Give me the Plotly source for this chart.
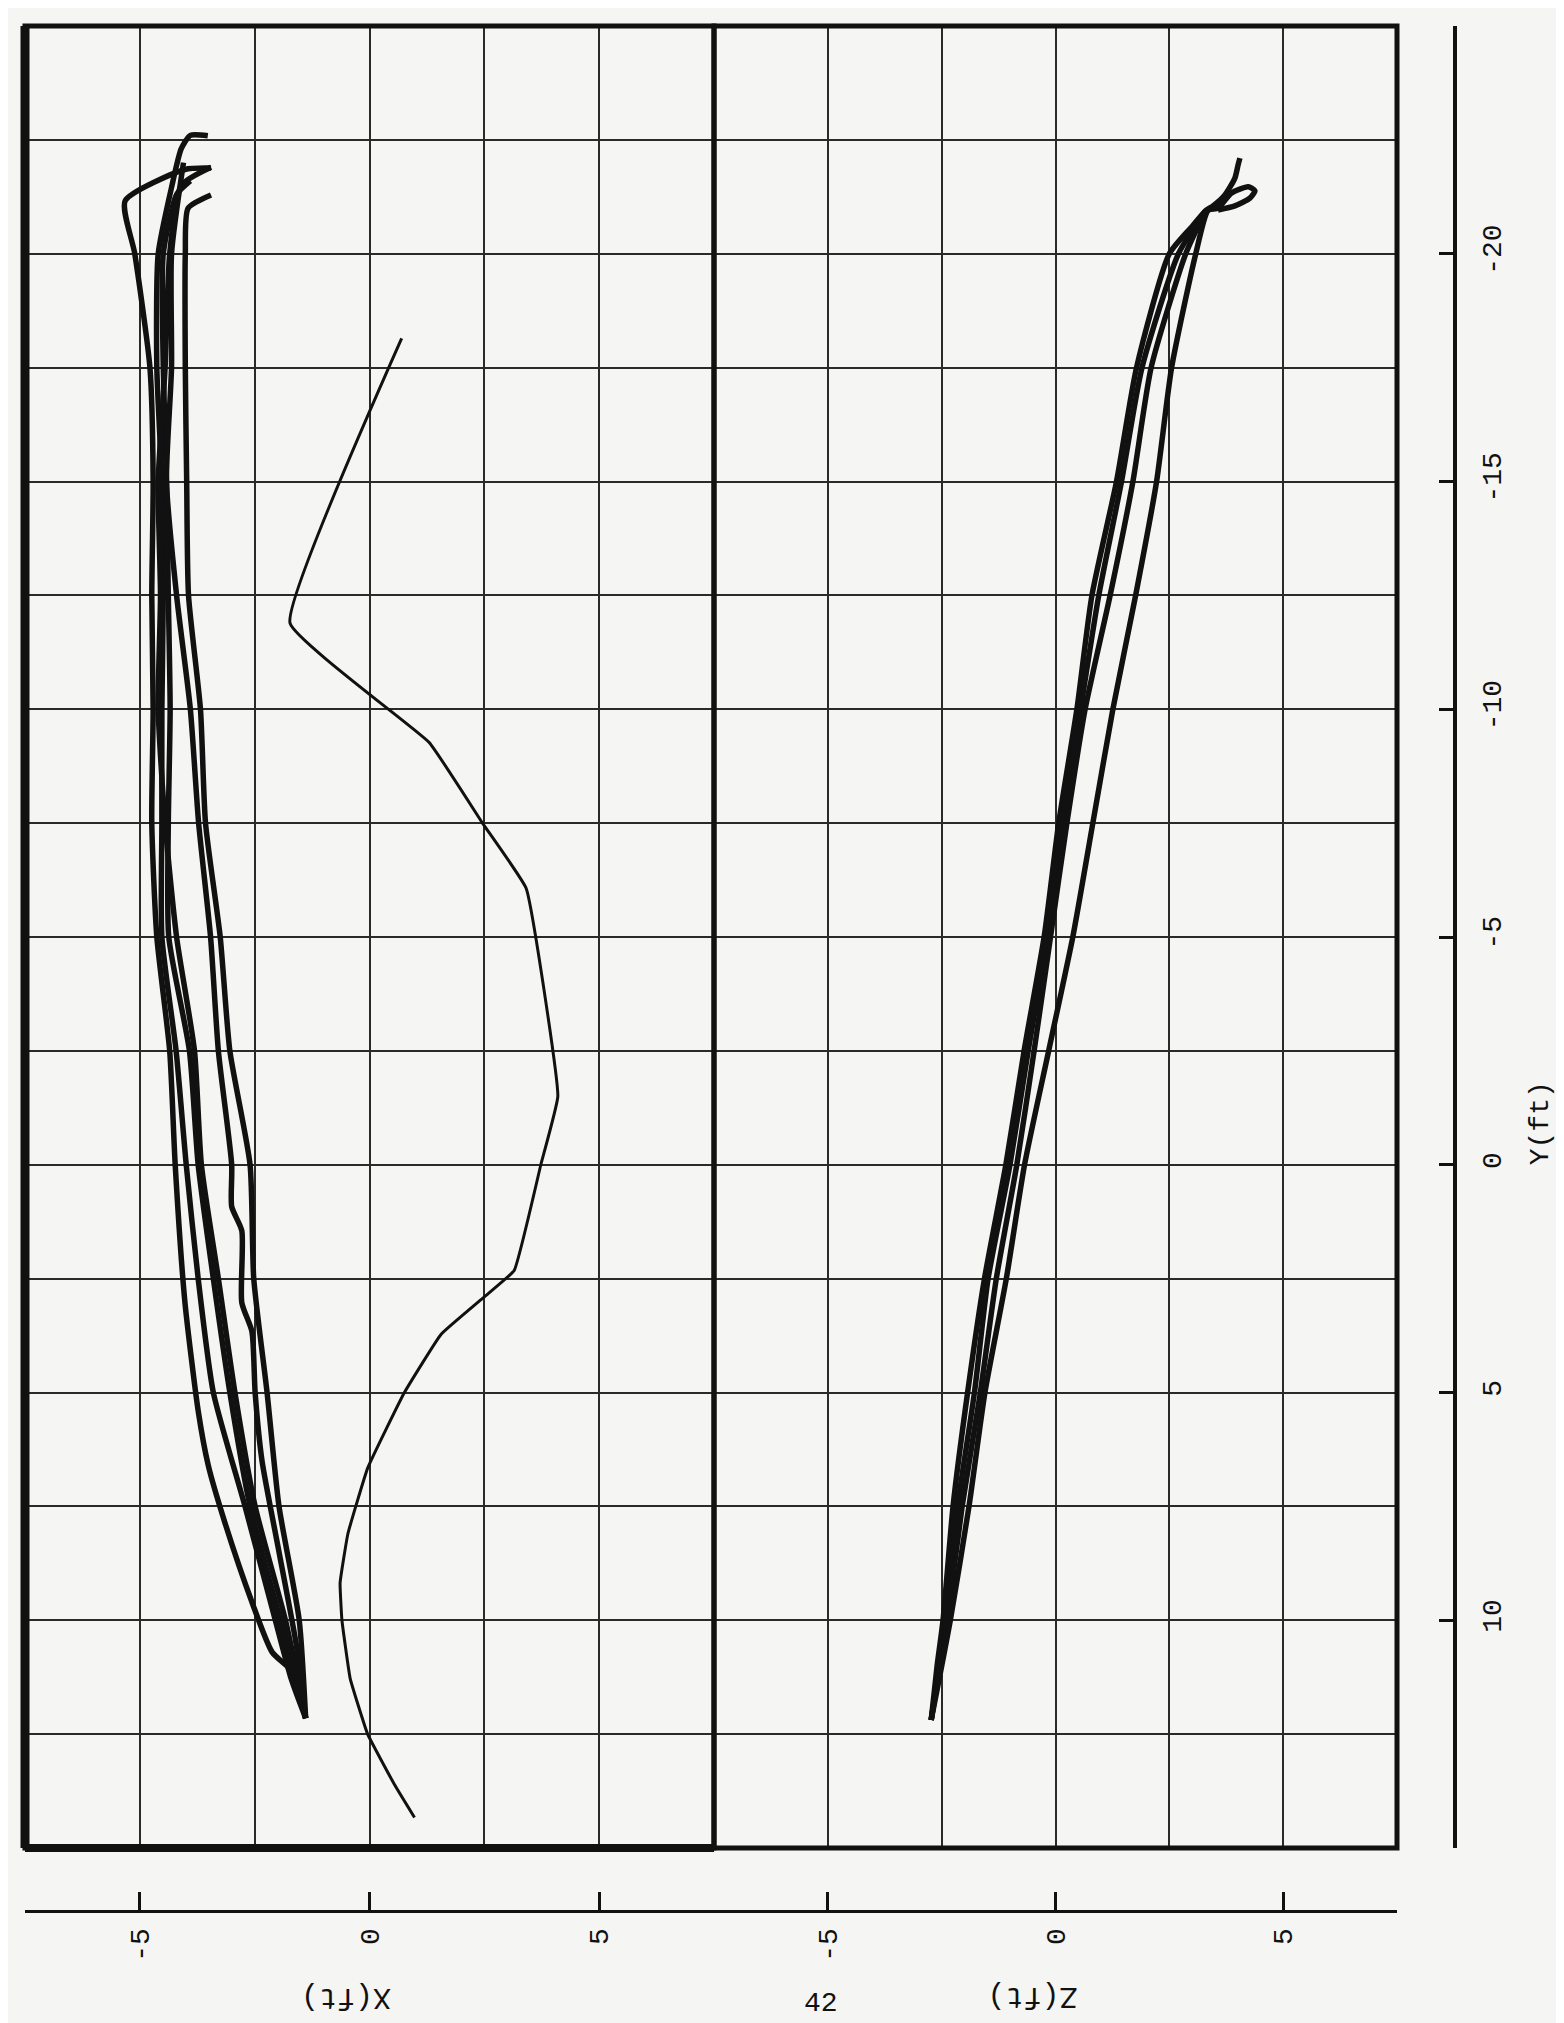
import plotly.graph_objects as go

# ---------------- data ----------------
# X(ft) panel: six trajectories (bottom -> top)
xa_X = [-1.39, -1.61, -2.12, -2.56, -3.15, -3.51, -3.73, -4.02, -4.23, -4.35, -4.63, -4.74, -4.71, -4.74, -4.71, -4.78, -5.11, -5.32, -4.02, -3.45]
xa_Y = [12.15, 11.2, 10.7, 9.6, 7.85, 6.6, 5.4, 3.0, 0.0, -2.5, -5.0, -7.5, -10.0, -12.5, -15.0, -17.5, -20.0, -21.16, -21.85, -21.88]

xb_X = [-1.39, -1.70, -2.05, -2.71, -3.40, -3.73, -3.99, -4.21, -4.52, -4.52, -4.52, -4.49, -4.52, -4.63, -4.60, -4.30, -4.10, -3.90, -3.52]
xb_Y = [12.15, 11.3, 10.0, 7.5, 5.0, 2.5, 0.0, -2.5, -5.0, -7.5, -10.0, -12.5, -15.0, -17.5, -20.0, -21.5, -22.3, -22.6, -22.59]

xc_X = [-1.39, -1.94, -2.60, -3.04, -3.40, -3.73, -3.92, -4.37, -4.38, -4.34, -4.38, -4.42, -4.49, -4.49, -4.20, -3.90]
xc_Y = [12.15, 10.0, 7.5, 5.0, 2.5, 0.0, -2.5, -5.0, -7.5, -10.0, -12.5, -15.0, -17.5, -20.0, -21.3, -21.6]

xd_X = [-1.39, -1.83, -2.49, -2.93, -3.29, -3.66, -3.81, -4.20, -4.45, -4.60, -4.55, -4.60, -4.45, -4.35, -4.10, -3.45]
xd_Y = [12.15, 10.0, 7.5, 5.0, 2.5, 0.0, -2.5, -5.0, -7.5, -10.0, -12.5, -15.0, -17.5, -20.0, -21.5, -21.9]

xe_X = [-1.39, -1.60, -1.97, -2.34, -2.49, -2.56, -2.78, -2.78, -3.00, -3.00, -3.29, -3.46, -3.72, -3.90, -4.20, -4.42, -4.31, -4.31, -4.05]
xe_Y = [12.15, 10.5, 8.5, 6.5, 5.0, 3.66, 3.03, 1.45, 0.92, 0.0, -2.5, -5.0, -7.5, -10.0, -12.5, -15.0, -17.5, -20.0, -22.0]

xf_X = [-1.39, -1.53, -1.97, -2.23, -2.52, -2.60, -3.04, -3.25, -3.57, -3.68, -3.94, -3.98, -4.01, -4.01, -3.95, -3.45]
xf_Y = [12.15, 10.0, 7.5, 5.0, 2.5, 0.0, -2.5, -5.0, -7.5, -10.0, -12.5, -15.0, -17.5, -20.0, -21.0, -21.29]

# X(ft) panel: single thin path
xs_X = [0.70, -1.73, 1.30, 2.46, 3.41, 4.10, 3.73, 3.15, 2.50, 1.56, 0.76, -0.04, -0.47, -0.64, -0.60, -0.42, -0.04, 0.54, 0.98]
xs_Y = [-18.14, -11.89, -9.27, -7.5, -6.07, -1.5, 0.0, 2.32, 2.9, 3.72, 5.0, 6.66, 8.1, 9.18, 10.0, 11.28, 12.5, 13.6, 14.33]

# Z(ft) panel: four trajectories (bottom -> top)
z1_Z = [-2.73, -2.60, -2.47, -2.25, -1.93, -1.56, -1.09, -0.69, -0.25, 0.07, 0.47, 0.80, 1.34, 1.78, 2.50, 3.00, 3.30, 3.46, 3.72, 3.94, 4.01, 4.05]
z1_Y = [12.19, 11.0, 10.0, 7.5, 5.0, 2.5, 0.0, -2.5, -5.0, -7.5, -10.0, -12.5, -15.0, -17.5, -20.0, -20.6, -20.95, -21.05, -21.29, -21.66, -21.95, -22.1]

z2_Z = [-2.73, -2.42, -2.15, -1.78, -1.48, -1.00, -0.60, -0.18, 0.15, 0.55, 0.95, 1.45, 1.90, 2.70, 3.30]
z2_Y = [12.19, 10.0, 7.5, 5.0, 2.5, 0.0, -2.5, -5.0, -7.5, -10.0, -12.5, -15.0, -17.5, -20.0, -20.95]

z3_Z = [-2.73, -2.38, -2.05, -1.65, -1.30, -0.85, -0.47, -0.11, 0.25, 0.65, 1.20, 1.70, 2.10, 2.86, 3.30]
z3_Y = [12.19, 10.0, 7.5, 5.0, 2.5, 0.0, -2.5, -5.0, -7.5, -10.0, -12.5, -15.0, -17.5, -20.0, -20.95]

z4_Z = [-2.73, -2.31, -1.90, -1.55, -1.08, -0.68, -0.15, 0.38, 0.82, 1.26, 1.76, 2.22, 2.55, 3.08, 3.35, 3.57, 3.86, 4.23, 4.38, 4.27, 3.94, 3.57]
z4_Y = [12.19, 10.0, 7.5, 5.0, 2.5, 0.0, -2.5, -5.0, -7.5, -10.0, -12.5, -15.0, -17.5, -20.0, -20.95, -21.0, -21.33, -21.47, -21.38, -21.22, -21.05, -20.96]

horiz_ticks = [-5, 0, 5]
horiz_ticktext = ["-5", "0", "5"]
y_ticks = [-20, -15, -10, -5, 0, 5, 10]
y_ticktext = ["-20", "-15", "-10", "-5", "0", "5", "10"]

# ---------------- figure ----------------
INK = "#111111"
GRID = "#2a2a2a"
PAPER = "#f5f5f3"
FONT = "Liberation Mono"

fig = go.Figure()

bundle_x = [(xa_X, xa_Y), (xb_X, xb_Y), (xc_X, xc_Y), (xd_X, xd_Y), (xe_X, xe_Y), (xf_X, xf_Y)]
for xs, ys in bundle_x:
    fig.add_trace(go.Scatter(x=xs, y=ys, mode="lines", xaxis="x", yaxis="y",
                             line=dict(color=INK, width=5.5, shape="spline", smoothing=0.6),
                             showlegend=False, hoverinfo="skip"))

fig.add_trace(go.Scatter(x=xs_X, y=xs_Y, mode="lines", xaxis="x", yaxis="y",
                         line=dict(color=INK, width=3, shape="spline", smoothing=0.3),
                         showlegend=False, hoverinfo="skip"))

bundle_z = [(z1_Z, z1_Y), (z2_Z, z2_Y), (z3_Z, z3_Y), (z4_Z, z4_Y)]
for zs, ys in bundle_z:
    fig.add_trace(go.Scatter(x=zs, y=ys, mode="lines", xaxis="x2", yaxis="y",
                             line=dict(color=INK, width=5.5, shape="spline", smoothing=0.6),
                             showlegend=False, hoverinfo="skip"))

W, H = 1564, 2023
y_dom = [(H - 1840) / H, (H - 18) / H]
x_dom = [17 / W, 706 / W]
z_dom = [706 / W, 1389 / W]
x_axis_pos = (H - 1903) / H
y_axis_pos = 1447 / W

def horiz_axis(domain):
    return dict(
        domain=domain, range=[-7.5, 7.5], anchor="free", position=x_axis_pos,
        showline=True, linecolor=INK, linewidth=3,
        ticks="inside", ticklen=18, tickwidth=3, tickcolor=INK,
        tickmode="array", tickvals=horiz_ticks, ticktext=horiz_ticktext,
        tickangle=-90, tickfont=dict(family=FONT, size=28, color=INK),
        ticklabelstandoff=4,
        showgrid=True, gridcolor=GRID, gridwidth=2, zeroline=False,
        minor=dict(tickmode="linear", tick0=0, dtick=2.5, showgrid=True,
                   gridcolor=GRID, gridwidth=2, ticks=""),
        fixedrange=True,
    )

fig.update_layout(
    width=W, height=H, autosize=False,
    margin=dict(l=0, r=0, t=0, b=0),
    paper_bgcolor=PAPER, plot_bgcolor=PAPER,
    showlegend=False,
    xaxis=horiz_axis(x_dom),
    xaxis2=horiz_axis(z_dom),
    yaxis=dict(
        domain=y_dom, range=[15, -25], anchor="free", position=y_axis_pos, side="right",
        showline=True, linecolor=INK, linewidth=4,
        ticks="inside", ticklen=14, tickwidth=3, tickcolor=INK,
        tickmode="array", tickvals=y_ticks, ticktext=y_ticktext,
        tickangle=-90, tickfont=dict(family=FONT, size=28, color=INK),
        ticklabelstandoff=10,
        showgrid=True, gridcolor=GRID, gridwidth=2, zeroline=False,
        minor=dict(tickmode="linear", tick0=0, dtick=2.5, showgrid=True,
                   gridcolor=GRID, gridwidth=2, ticks=""),
        fixedrange=True,
    ),
)

# plot frames
for xr in ["x domain", "x2 domain"]:
    fig.add_shape(type="rect", xref=xr, yref="y domain", x0=0, x1=1, y0=0, y1=1,
                  line=dict(color=INK, width=5))
fig.add_shape(type="line", xref="x domain", yref="y domain", x0=0, x1=0, y0=0, y1=1,
              line=dict(color=INK, width=9))
fig.add_shape(type="line", xref="x domain", yref="y domain", x0=0, x1=1, y0=0, y1=0,
              line=dict(color=INK, width=8))

# axis titles (rotated as in the scan)
fig.add_annotation(text="X(ft)", xref="x", yref="paper", x=-0.5, y=(H - 2008) / H,
                   textangle=180, showarrow=False, font=dict(family=FONT, size=30, color=INK))
fig.add_annotation(text="Z(ft)", xref="x2", yref="paper", x=-0.5, y=(H - 2007) / H,
                   textangle=180, showarrow=False, font=dict(family=FONT, size=30, color=INK))
fig.add_annotation(text="Y(ft)", xref="paper", yref="y", x=1550 / W, y=-0.9,
                   textangle=-90, showarrow=False, font=dict(family=FONT, size=28, color=INK))
fig.add_annotation(text="42", xref="paper", yref="paper", x=813 / W, y=(H - 2013) / H,
                   showarrow=False, font=dict(family=FONT, size=28, color=INK))

fig.write_html("out.html")
